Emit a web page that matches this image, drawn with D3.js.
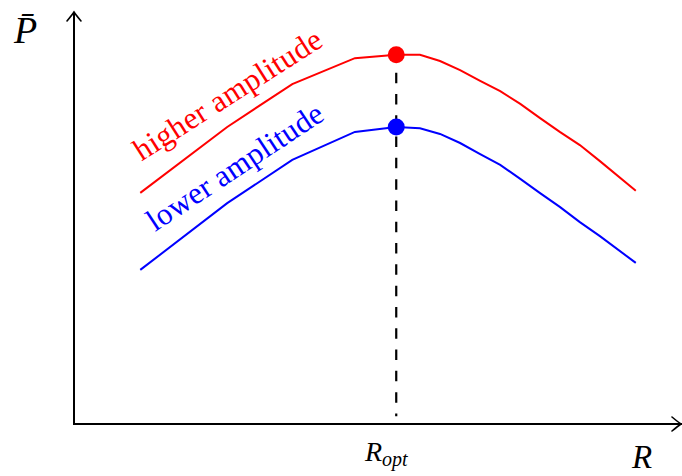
<!DOCTYPE html>
<html>
<head>
<meta charset="utf-8">
<script src="https://cdn.jsdelivr.net/npm/d3@7"></script>
<style>
  html, body { margin: 0; padding: 0; background: #fff; }
  svg { display: block; }
</style>
</head>
<body>
<svg id="chart" width="682" height="476"></svg>
<script>
// Resistance values sampled along both curves
const rValues = [1.09, 2.52, 3.59, 4.62, 5.30, 5.69, 6.02, 6.35, 6.68, 7.01, 7.34, 7.66, 7.99, 8.32, 8.65, 9.24];
// Mean power for the larger oscillation amplitude
const powerHigh = [5.61, 7.21, 8.25, 8.88, 8.96, 8.96, 8.81, 8.59, 8.33, 8.08, 7.77, 7.43, 7.09, 6.77, 6.38, 5.66];
// Mean power for the smaller oscillation amplitude
const powerLow = [3.74, 5.36, 6.41, 7.09, 7.21, 7.18, 7.04, 6.82, 6.55, 6.29, 5.95, 5.61, 5.27, 4.90, 4.56, 3.91];
// Optimum resistance and the peak power of each curve
const rOpt = 5.30;
const peakHigh = 8.96;
const peakLow = 7.21;
const seriesLabels = ["higher amplitude", "lower amplitude"];

const svg = d3.select("#chart");
const x = d3.scaleLinear().domain([0, 10]).range([74, 682]);
const y = d3.scaleLinear().domain([0, 10]).range([424, 12]);

const serif = "'Liberation Serif', 'DejaVu Serif', serif";

// Axes with open arrow heads
const ax = svg.append("g").attr("stroke", "#000").attr("stroke-width", 2).attr("fill", "none");
ax.append("path").attr("d", `M${x(0)},${y(0)}L${x(0)},${y(10)}`);
ax.append("path").attr("d", `M${x(0) - 1},${y(0)}L${x(10)},${y(0)}`);
const tipY = [x(0), y(10)];
ax.append("path").attr("stroke-width", 1.6).attr("stroke-linecap", "round")
  .attr("d", `M${tipY[0] - 7},${tipY[1] + 9}Q${tipY[0] - 2},${tipY[1] + 3} ${tipY[0]},${tipY[1]}Q${tipY[0] + 2},${tipY[1] + 3} ${tipY[0] + 7},${tipY[1] + 9}`);
const tipX = [x(10) - 1, y(0)];
ax.append("path").attr("stroke-width", 1.6).attr("stroke-linecap", "round")
  .attr("d", `M${tipX[0] - 9},${tipX[1] - 7}Q${tipX[0] - 3},${tipX[1] - 2} ${tipX[0]},${tipX[1]}Q${tipX[0] - 3},${tipX[1] + 2} ${tipX[0] - 9},${tipX[1] + 7}`);

// Dashed marker at the optimum
svg.append("line")
  .attr("x1", x(rOpt)).attr("x2", x(rOpt))
  .attr("y1", y(peakHigh)).attr("y2", y(0.19))
  .attr("stroke", "#000").attr("stroke-width", 2.2)
  .attr("stroke-dasharray", "10.5,10.8").attr("stroke-dashoffset", 3.5);

// Curves
const line = d3.line().x(d => x(d[0])).y(d => y(d[1]));
const curves = [
  { vals: powerHigh, color: "#ff0000", peak: peakHigh },
  { vals: powerLow, color: "#0000ff", peak: peakLow }
];
curves.forEach(c => {
  svg.append("path")
    .datum(rValues.map((r, i) => [r, c.vals[i]]))
    .attr("d", line)
    .attr("fill", "none").attr("stroke", c.color).attr("stroke-width", 2);
});
curves.forEach(c => {
  svg.append("circle")
    .attr("cx", x(rOpt)).attr("cy", y(c.peak)).attr("r", 8.5)
    .attr("fill", c.color);
});

// Curve labels, running along each curve
const labelLayout = [
  { pos: [141.5, 161.5], angle: -32.4, len: 217 },
  { pos: [155, 232], angle: -33.5, len: 205 }
];
curves.forEach((c, i) => {
  const l = labelLayout[i];
  svg.append("text")
    .attr("transform", `translate(${l.pos[0]},${l.pos[1]}) rotate(${l.angle})`)
    .attr("font-family", serif).attr("font-size", 31)
    .attr("textLength", l.len).attr("lengthAdjust", "spacing")
    .attr("fill", c.color)
    .text(seriesLabels[i]);
});

// Axis titles
svg.append("text")
  .attr("x", 14).attr("y", 43)
  .attr("font-family", serif).attr("font-style", "italic").attr("font-size", 38)
  .text("P\u0304");
svg.append("text")
  .attr("x", 632).attr("y", 468)
  .attr("font-family", serif).attr("font-style", "italic").attr("font-size", 33)
  .text("R");
const ropt = svg.append("text")
  .attr("x", 365).attr("y", 461)
  .attr("font-family", serif).attr("font-style", "italic").attr("font-size", 28);
ropt.append("tspan").text("R");
ropt.append("tspan").attr("font-size", 20).attr("dy", 5).text("opt");
</script>
</body>
</html>
